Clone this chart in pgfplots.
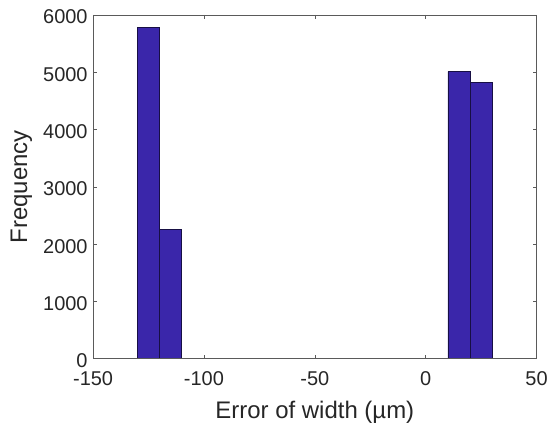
\documentclass[border=0pt]{standalone}
\usepackage{pgfplots}
\pgfplotsset{compat=1.18}
\usepackage{fontspec}
\setmainfont{Liberation Sans}
\definecolor{barblue}{RGB}{58,38,170}
\definecolor{axgray}{RGB}{90,90,90}
\begin{document}
\begin{tikzpicture}
\begin{axis}[
  name=ax,
  scale only axis,
  width=444.4pt, height=344.5pt,
  xmin=-150, xmax=50, ymin=0, ymax=6000,
  xtick={-150,-100,-50,0,50},
  ytick={0,1000,2000,3000,4000,5000,6000},
  tick align=inside,
  major tick length=4pt,
  axis line style={axgray, line width=0.8pt},
  tick style={axgray, line width=0.6pt},
  /pgf/number format/assume math mode=true,
  /pgf/number format/1000 sep={},
  scaled y ticks=false,
  ticklabel style={font=\fontsize{20}{23}\selectfont, text=black!85},
  xticklabel style={yshift=-9.5pt},
  yticklabel style={xshift=-2pt, yshift=-2pt},
  label style={font=\fontsize{24}{28}\selectfont, text=black!85},
  xlabel={Error of width (µm)},
  ylabel={Frequency},
  xlabel style={at={(axis description cs:0.5,0)}, anchor=base, yshift=-59.5pt},
  ylabel style={at={(axis description cs:0,0.5)}, anchor=base, yshift=66pt},
  axis on top,
]
\addplot[ybar interval, fill=barblue, draw=black!60!barblue, line width=0.6pt]
coordinates {(-130,5787) (-120,2259) (-110,2259)};
\addplot[ybar interval, fill=barblue, draw=black!60!barblue, line width=0.6pt]
coordinates {(10,5010) (20,4818) (30,4818)};
\end{axis}
\path (ax.south east) ++(13.3pt,0) coordinate (r);
\path (ax.south west) ++(-93.3pt,0) coordinate (l);
\path (ax.north west) ++(0,15pt) coordinate (t);
\path (ax.south west) ++(0,-67.5pt) coordinate (b);
\end{tikzpicture}
\end{document}
